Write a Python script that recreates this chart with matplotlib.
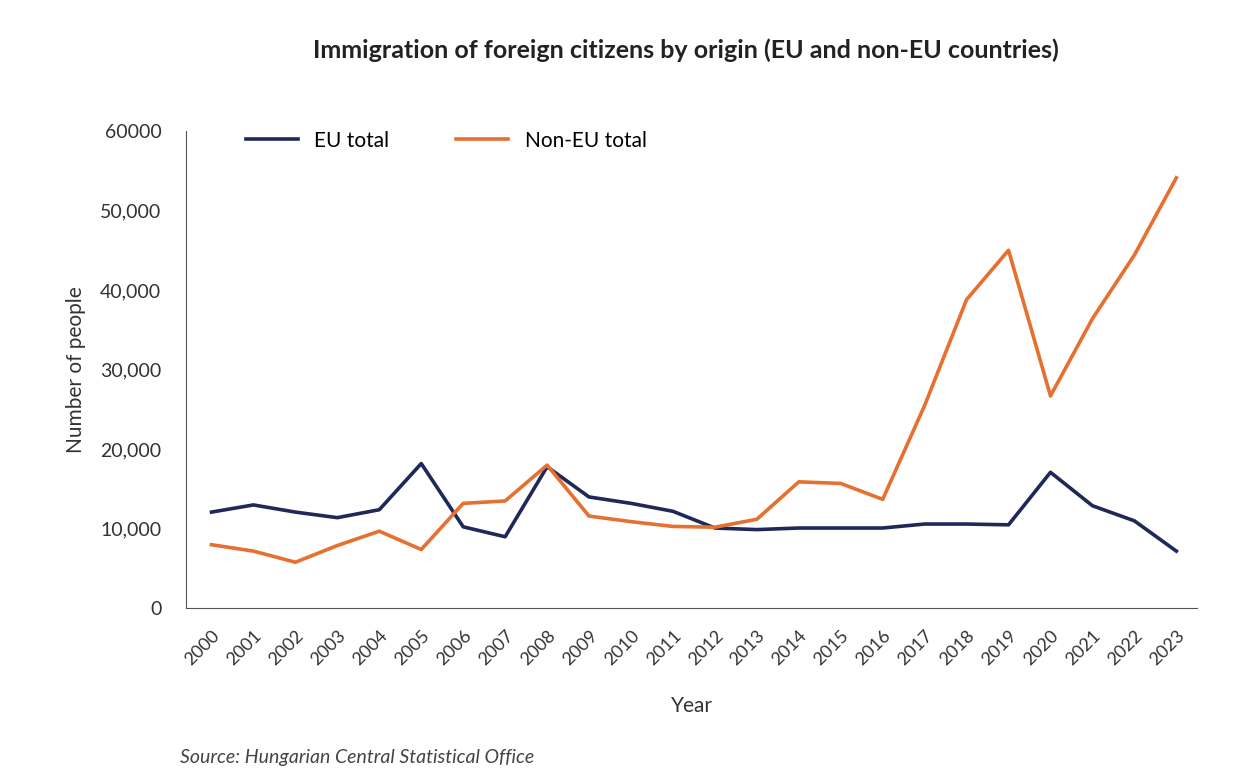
import matplotlib
matplotlib.use("Agg")
import matplotlib.pyplot as plt

years = list(range(2000, 2024))
eu = [12100,13000,12100,11400,12400,18200,10250,9000,17800,14000,13200,12200,
      10100,9900,10100,10100,10100,10600,10600,10500,17100,12900,11000,7200]
non_eu = [8000,7200,5800,7900,9700,7400,13200,13500,18000,11600,10900,10300,
          10200,11200,15900,15700,13700,25500,38800,45000,26700,36400,44400,54100]
yticks = [0,10000,20000,30000,40000,50000,60000]
ytick_labels = ["0","10,000","20,000","30,000","40,000","50,000","60000"]

plt.rcParams['font.family'] = ['Lato', 'DejaVu Sans']
fig = plt.figure(figsize=(12.59, 7.79), dpi=100)
ax = fig.add_axes([0.148, 0.219, 0.803, 0.613])
ax.plot(years, eu, color='#1f2858', lw=2.6, label='EU total')
ax.plot(years, non_eu, color='#e5702f', lw=2.6, label='Non-EU total')
ax.set_xlim(1999.4, 2023.5)
ax.set_ylim(0, 60000)
ax.set_yticks(yticks)
ax.set_yticklabels(ytick_labels, fontsize=14, color='#333333')
ax.set_xticks(years)
ax.set_xticklabels([str(y) for y in years], rotation=45, ha='right',
                   rotation_mode='anchor', fontsize=13, color='#333333')
ax.tick_params(axis='y', length=0, pad=18)
ax.tick_params(axis='x', length=0, pad=14)
for s in ['top', 'right']:
    ax.spines[s].set_visible(False)
for s in ['left', 'bottom']:
    ax.spines[s].set_color('#555555')
ax.set_ylabel('Number of people', fontsize=15, color='#333333', labelpad=10)
ax.set_xlabel('Year', fontsize=15, color='#333333', labelpad=20)
ax.legend(loc='upper left', bbox_to_anchor=(0.04, 1.04), ncol=2, frameon=False,
          fontsize=15, handlelength=2.5, columnspacing=3.2)
fig.text(0.545, 0.925, 'Immigration of foreign citizens by origin (EU and non-EU countries)',
         ha='center', fontsize=18, fontweight='bold', color='#222222')
fig.text(0.143, 0.02, 'Source: Hungarian Central Statistical Office', fontsize=14,
         style='italic', color='#444444')
fig.savefig('out.png', dpi=100)
